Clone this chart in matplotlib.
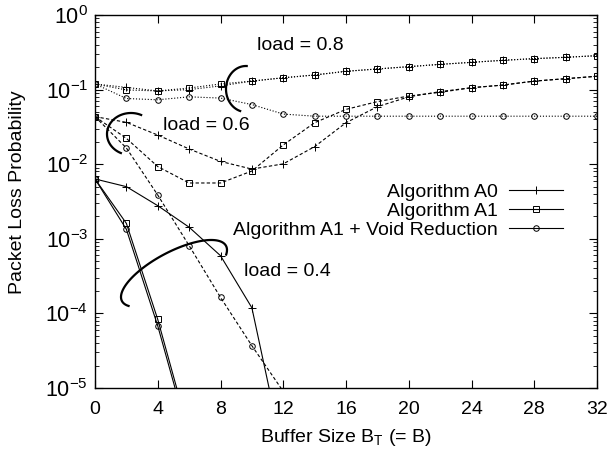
import numpy as np
import matplotlib
matplotlib.use("Agg")
import matplotlib.pyplot as plt
from matplotlib.lines import Line2D

plt.rcParams['font.family'] = ['Liberation Sans', 'DejaVu Sans']
plt.rcParams['mathtext.fontset'] = 'custom'
plt.rcParams['mathtext.rm'] = 'Liberation Sans'
plt.rcParams['mathtext.it'] = 'Liberation Sans:italic'

# buffer sizes
x_full = np.arange(0, 33, 2)

# load = 0.8 (dotted)
a0_08 = [0.119, 0.107, 0.096, 0.100, 0.112, 0.130, 0.144, 0.157, 0.176,
         0.189, 0.203, 0.218, 0.232, 0.247, 0.260, 0.271, 0.285]
a1_08 = [0.119, 0.099, 0.096, 0.105, 0.119, 0.130, 0.144, 0.157, 0.176,
         0.189, 0.203, 0.218, 0.232, 0.247, 0.260, 0.271, 0.285]
vr_08 = [0.119, 0.076, 0.073, 0.080, 0.077, 0.063, 0.047, 0.044, 0.044,
         0.044, 0.044, 0.044, 0.044, 0.044, 0.044, 0.044, 0.044]

# load = 0.6 (dashed)
a0_06 = [0.0434, 0.0364, 0.0246, 0.0160, 0.0109, 0.0086, 0.0101, 0.0172, 0.036,
         0.059, 0.080, 0.094, 0.106, 0.115, 0.130, 0.140, 0.151]
a1_06 = [0.0434, 0.0222, 0.0093, 0.0056, 0.0056, 0.0081, 0.0181, 0.036, 0.0543,
         0.069, 0.082, 0.092, 0.106, 0.115, 0.130, 0.140, 0.151]
x_vr06 = [0, 2, 4, 6, 8, 10, 12]
vr_06 = [0.0434, 0.0165, 0.00386, 0.00081, 1.64e-4, 3.69e-5, 9e-6]

# load = 0.4 (solid)
x_a004 = [0, 2, 4, 6, 8, 10, 12]
a0_04 = [0.00634, 0.0050, 0.00278, 0.00143, 5.94e-4, 1.19e-4, 1.3e-6]
x_a104 = [0, 2, 4, 6]
a1_04 = [0.00634, 0.00161, 8.3e-5, 2.5e-6]
vr_04 = [0.00634, 0.00134, 6.8e-5, 2.1e-6]

y_ticks = [1e-5, 1e-4, 1e-3, 1e-2, 1e-1, 1]
y_ticklabels = ['$10^{-5}$', '$10^{-4}$', '$10^{-3}$', '$10^{-2}$', '$10^{-1}$', '$10^{0}$']

fs = 14
fig = plt.figure(figsize=(6.07, 4.5), dpi=100)
ax = fig.add_axes([95 / 607, (450 - 388) / 450, 502 / 607, 373 / 450])

lw = 0.8
mk = dict(color='black', lw=lw, mfc='none', mec='black', mew=0.7)
plus = dict(marker='+', ms=6, **mk)
sq = dict(marker='s', ms=4, **mk)
circ = dict(marker='o', ms=4, **mk)
dash = (0, (3, 2))

ax.plot(x_full, a0_08, ls=':', **plus)
ax.plot(x_full, a1_08, ls=':', **sq)
ax.plot(x_full, vr_08, ls=':', **circ)

ax.plot(x_full, a0_06, ls=dash, **plus)
ax.plot(x_full, a1_06, ls=dash, **sq)
ax.plot(x_vr06, vr_06, ls=dash, **circ)

ax.plot(x_a004, a0_04, ls='-', **plus)
ax.plot(x_a104, a1_04, ls='-', **sq)
ax.plot(x_a104, vr_04, ls='-', **circ)

ax.set_yscale('log')
ax.set_xlim(0, 32)
ax.set_ylim(1e-5, 1)
ax.set_xticks(range(0, 33, 4))
ax.set_yticks(y_ticks)
ax.set_yticklabels(y_ticklabels)
ax.tick_params(which='both', direction='in', top=True, right=True, labelsize=fs)
ax.tick_params(which='major', length=6)
ax.tick_params(which='minor', length=3)
ax.tick_params(axis='x', pad=9)
ax.tick_params(axis='y', pad=5, labelsize=15.5)
for s in ax.spines.values():
    s.set_linewidth(1.0)

fig.text(18 / 607, 1 - 192 / 450, 'Packet Loss Probability', rotation=90,
         ha='center', va='center', fontsize=fs)
fig.text(346 / 607, 1 - 437 / 450, 'Buffer Size B$_\\mathrm{T}$ (= B)',
         ha='center', va='center', fontsize=fs)

# legend
handles = [Line2D([], [], ls='-', **plus), Line2D([], [], ls='-', **sq),
           Line2D([], [], ls='-', **circ)]
labels = ['Algorithm A0', 'Algorithm A1', 'Algorithm A1 + Void Reduction']
ax.legend(handles, labels, loc='upper right', frameon=False, markerfirst=False,
          bbox_to_anchor=((563 - 95) / 502, (388 - 183) / 373), borderaxespad=0,
          borderpad=0, handlelength=2.8, handletextpad=0.55, labelspacing=0.08,
          fontsize=fs, numpoints=1)


def px(xp, yp):
    return (np.asarray(xp) - 95) / 502, (388 - np.asarray(yp)) / 373


def arc(cx, cy, a, b, phi, t1, t2):
    t = np.radians(np.linspace(t1, t2, 100))
    p = np.radians(phi)
    xe = a * np.cos(t) * np.cos(p) - b * np.sin(t) * np.sin(p)
    ye = a * np.cos(t) * np.sin(p) + b * np.sin(t) * np.cos(p)
    fx, fy = px(cx + xe, cy - ye)
    ax.plot(fx, fy, color='black', lw=1.6, transform=ax.transAxes, clip_on=False)


arc(246, 89, 20, 23, 0, 88, 253)
arc(131, 134, 24, 21, 0, 65, 245)
arc(174, 273.5, 58.9, 21.5, 27.95, -21, 200)

for txt, xp, yp in [('load = 0.8', 257, 45), ('load = 0.6', 163, 126),
                    ('load = 0.4', 244, 271)]:
    fx, fy = px(xp, yp)
    ax.text(fx, fy, txt, transform=ax.transAxes, ha='left', va='center', fontsize=fs)

fig.savefig('out.png', dpi=100)
